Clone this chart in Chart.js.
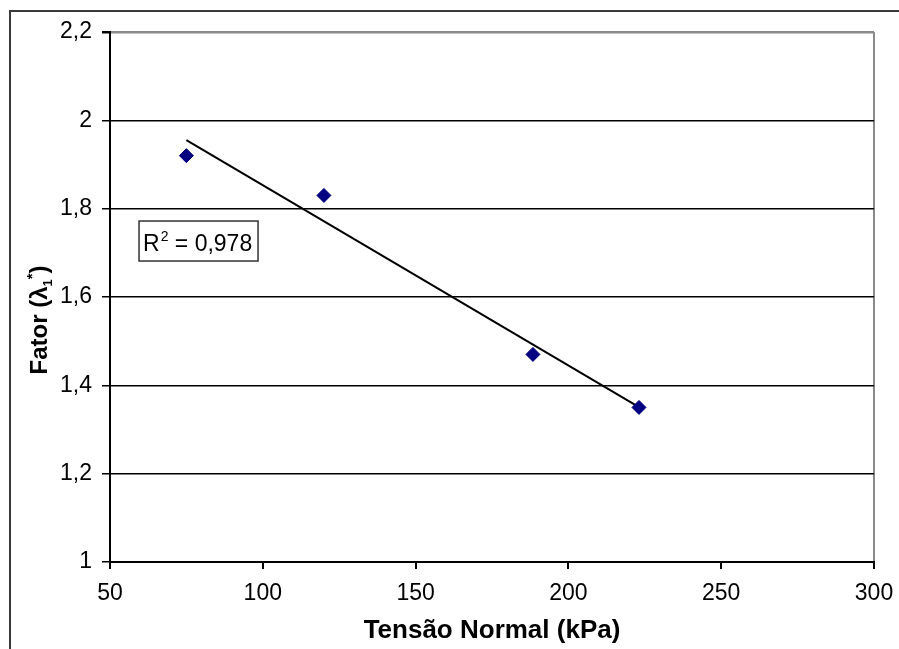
<!DOCTYPE html>
<html>
<head>
<meta charset="utf-8">
<script src="https://cdn.jsdelivr.net/npm/chart.js@4"></script>
<style>
  html, body { margin: 0; padding: 0; background: #fff; }
</style>
</head>
<body>
<canvas id="chart" width="899" height="649"></canvas>
<script>
// values
const tensao = [75, 120, 188.4, 223.1];     // kPa
const fator = [1.92, 1.83, 1.47, 1.35];
const xTicks = [50, 100, 150, 200, 250, 300];
const yTicks = [1, 1.2, 1.4, 1.6, 1.8, 2, 2.2];
const r2Text = '0,978';

// linear trend (least squares), like the spreadsheet trendline
const n = tensao.length;
const mx = tensao.reduce((a, b) => a + b, 0) / n;
const my = fator.reduce((a, b) => a + b, 0) / n;
let sxy = 0, sxx = 0;
for (let i = 0; i < n; i++) {
    sxy += (tensao[i] - mx) * (fator[i] - my);
    sxx += (tensao[i] - mx) * (tensao[i] - mx);
}
const slope = sxy / sxx;
const intercept = my - slope * mx;
const xMin = Math.min(...tensao), xMax = Math.max(...tensao);
const trend = [xMin, xMax].map(x => ({ x: x, y: intercept + slope * x }));

const FONT = "'Liberation Sans', Arial, sans-serif";
const fmt = v => String(Number(v.toFixed(1))).replace('.', ',');

// outer frame, R² box and y title
const decor = {
    id: 'decor',
    beforeDraw(chart) {
        const ctx = chart.ctx;
        ctx.save();
        ctx.fillStyle = '#fff';
        ctx.fillRect(0, 0, chart.width, chart.height);
        ctx.strokeStyle = '#3a3a3a';
        ctx.lineWidth = 2;
        ctx.beginPath();
        ctx.moveTo(10, chart.height + 5);
        ctx.lineTo(10, 11);
        ctx.lineTo(chart.width + 5, 11);
        ctx.stroke();
        ctx.restore();
    },
    afterDraw(chart) {
        const ctx = chart.ctx;
        const xs = chart.scales.x, ys = chart.scales.y;

        // R² label box
        const bx = xs.getPixelForValue(59.5), by = ys.getPixelForValue(1.772);
        ctx.save();
        ctx.strokeStyle = '#333';
        ctx.lineWidth = 1.5;
        ctx.strokeRect(bx, by, 119, 40);
        ctx.fillStyle = '#000';
        ctx.textBaseline = 'alphabetic';
        ctx.font = '23px ' + FONT;
        let tx = bx + 4, base = by + 30;
        ctx.fillText('R', tx, base);
        tx += ctx.measureText('R').width;
        ctx.font = '14px ' + FONT;
        ctx.fillText('2', tx + 1, base - 10);
        tx += ctx.measureText('2').width + 1;
        ctx.font = '23px ' + FONT;
        ctx.fillText(' = ' + r2Text, tx, base);
        ctx.restore();

        // y axis title: Fator (λ1*)
        const parts = [
            { t: 'Fator (λ', f: 'bold 24px ' + FONT, dy: 0 },
            { t: '1', f: 'bold 13px ' + FONT, dy: 5 },
            { t: '*', f: 'bold 15px ' + FONT, dy: -10 },
            { t: ')', f: 'bold 24px ' + FONT, dy: 0 }
        ];
        ctx.save();
        let w = 0;
        parts.forEach(p => { ctx.font = p.f; p.w = ctx.measureText(p.t).width; w += p.w; });
        ctx.translate(47, 320);
        ctx.rotate(-Math.PI / 2);
        ctx.fillStyle = '#000';
        ctx.textBaseline = 'alphabetic';
        let px = -w / 2;
        parts.forEach(p => { ctx.font = p.f; ctx.fillText(p.t, px, p.dy); px += p.w; });
        ctx.restore();
    }
};

new Chart(document.getElementById('chart'), {
    type: 'scatter',
    data: {
        datasets: [{
            label: 'Fator',
            data: tensao.map((x, i) => ({ x: x, y: fator[i] })),
            pointStyle: 'rectRot',
            pointRadius: 7,
            pointHoverRadius: 7,
            backgroundColor: '#000080',
            borderColor: '#000080',
            borderWidth: 1,
            showLine: false
        }, {
            label: 'Linear',
            data: trend,
            showLine: true,
            borderColor: '#000',
            borderWidth: 2,
            pointRadius: 0,
            fill: false
        }]
    },
    options: {
        responsive: false,
        animation: false,
        layout: { padding: { top: 32, right: 25, left: 0, bottom: 0 } },
        plugins: {
            legend: { display: false },
            tooltip: { enabled: false }
        },
        scales: {
            x: {
                type: 'linear',
                min: xTicks[0],
                max: xTicks[xTicks.length - 1],
                afterBuildTicks: s => { s.ticks = xTicks.map(v => ({ value: v })); },
                afterFit: s => { s.height = 87; s.paddingLeft = 0; s.paddingRight = 0; },
                ticks: {
                    color: '#000',
                    font: { family: FONT, size: 23 },
                    padding: 11,
                    maxRotation: 0
                },
                grid: {
                    color: c => (c.tick && c.tick.value === 300 ? '#8a8a8a' : 'rgba(0,0,0,0)'),
                    tickColor: '#000',
                    lineWidth: 2,
                    tickLength: 7
                },
                border: { color: '#000', width: 2 },
                title: {
                    display: true,
                    text: 'Tensão Normal (kPa)',
                    color: '#000',
                    font: { family: FONT, size: 26, weight: 'bold' },
                    padding: { top: 0, bottom: 3 }
                }
            },
            y: {
                type: 'linear',
                min: yTicks[0],
                max: yTicks[yTicks.length - 1],
                afterBuildTicks: s => { s.ticks = yTicks.map(v => ({ value: v })); },
                afterFit: s => { s.width = 110; s.paddingTop = 0; s.paddingBottom = 0; },
                ticks: {
                    color: '#000',
                    font: { family: FONT, size: 23 },
                    padding: 10,
                    callback: v => fmt(v)
                },
                grid: {
                    color: c => (c.tick && Math.abs(c.tick.value - 2.2) < 1e-6 ? '#8a8a8a' : '#000'),
                    tickColor: '#000',
                    lineWidth: c => (c.tick && Math.abs(c.tick.value - 2.2) < 1e-6 ? 2.5 : 1.5),
                    tickLength: 8
                },
                border: { color: '#000', width: 2 }
            }
        }
    },
    plugins: [decor]
});
</script>
</body>
</html>
